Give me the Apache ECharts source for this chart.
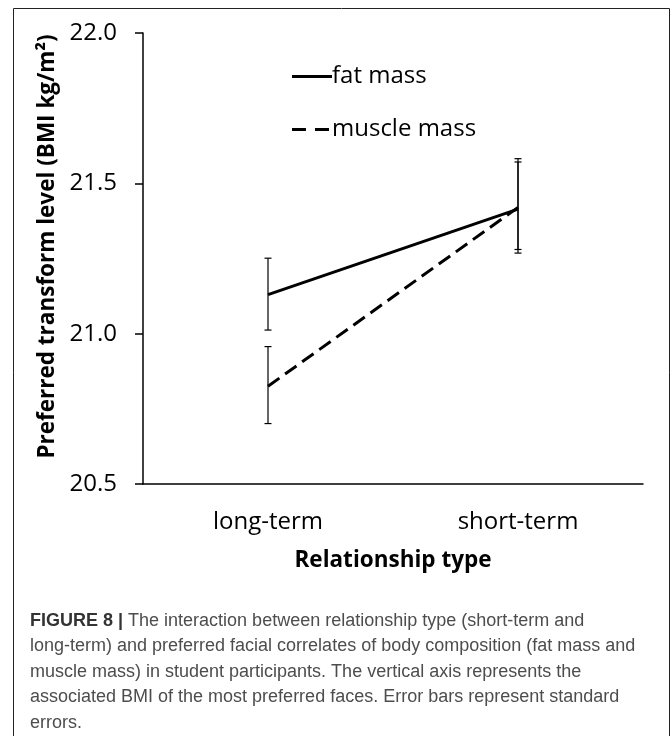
<!DOCTYPE html>
<html>
<head>
<meta charset="utf-8">
<script src="https://cdn.jsdelivr.net/npm/echarts@6/dist/echarts.min.js"></script>
<style>
html,body{margin:0;padding:0;background:#fff;}
#c{width:672px;height:736px;}
</style>
</head>
<body>
<div id="c"></div>
<script>
const categories = ['long-term', 'short-term'];
const fatMass = [21.13, 21.414];
const muscleMass = [20.825, 21.42];
const fatLow = [21.012, 21.268];
const fatHigh = [21.251, 21.571];
const muscleLow = [20.701, 21.28];
const muscleHigh = [20.957, 21.582];
const yTicks = [20.5, 21.0, 21.5, 22.0];
const seriesNames = ['fat mass', 'muscle mass'];
const captionLines = [
  'The interaction between relationship type (short-term and',
  'long-term) and preferred facial correlates of body composition (fat mass and',
  'muscle mass) in student participants. The vertical axis represents the',
  'associated BMI of the most preferred faces. Error bars represent standard',
  'errors.'
];

const errData = [];
categories.forEach((c, i) => {
  errData.push([i, fatLow[i], fatHigh[i]]);
  errData.push([i, muscleLow[i], muscleHigh[i]]);
});

const solidIcon = 'path://M0,0H40V3H0Z';
const dashIcon = 'path://M0,0H14V3H0Z M23,0H37V3H23Z M40,0H40.01V3H40Z';

const chart = echarts.init(document.getElementById('c'));
const txt = '#000';
chart.setOption({
  animation: false,
  backgroundColor: '#fff',
  grid: { left: 143, right: 29, top: 33, bottom: 252, containLabel: false },
  legend: {
    orient: 'vertical',
    left: 287,
    top: 55,
    itemWidth: 40,
    itemHeight: 3,
    itemGap: 20,
    data: [
      { name: seriesNames[0], icon: solidIcon },
      { name: seriesNames[1], icon: dashIcon }
    ],
    itemStyle: { color: '#000', borderWidth: 0 },
    textStyle: { fontFamily: 'Open Sans', fontSize: 24, color: txt, padding: [0, 0, 0, -5], lineHeight: 33 }
  },
  xAxis: {
    type: 'category',
    data: categories,
    boundaryGap: true,
    axisTick: { show: false },
    axisLine: { lineStyle: { color: '#000', width: 1.5 } },
    axisLabel: { fontFamily: 'Open Sans', fontSize: 24, color: txt, margin: 26 },
    name: 'Relationship type',
    nameLocation: 'middle',
    nameGap: 65,
    nameTextStyle: { fontFamily: 'Open Sans', fontWeight: 'bold', fontSize: 22.5, color: txt }
  },
  yAxis: {
    type: 'value',
    min: 20.5,
    max: 22.0,
    interval: 0.5,
    splitLine: { show: false },
    axisLine: { show: true, lineStyle: { color: '#000', width: 1.5 } },
    axisTick: { show: true, length: 8, lineStyle: { color: '#000', width: 1.5 } },
    axisLabel: {
      fontFamily: 'Open Sans', fontSize: 24, color: txt, margin: 26,
      formatter: v => yTicks.includes(+v.toFixed(1)) ? v.toFixed(1) : ''
    },
    name: 'Preferred transform level (BMI kg/m²)',
    nameLocation: 'middle',
    nameRotate: 90,
    nameGap: 77,
    nameTextStyle: { fontFamily: 'Open Sans', fontWeight: 'bold', fontSize: 22.5, color: txt, padding: [0, 0, 0, 24] }
  },
  series: [
    {
      name: seriesNames[0], type: 'line', data: fatMass, symbol: 'none',
      lineStyle: { color: '#000', width: 3 }, itemStyle: { color: '#000' }
    },
    {
      name: seriesNames[1], type: 'line', data: muscleMass, symbol: 'none',
      lineStyle: { color: '#000', width: 3, type: [14, 7] }, itemStyle: { color: '#000' }
    },
    {
      type: 'custom',
      data: errData,
      z: 5,
      renderItem: function (params, api) {
        const p1 = api.coord([api.value(0), api.value(1)]);
        const p2 = api.coord([api.value(0), api.value(2)]);
        const w = 3.5;
        const st = { stroke: '#000', lineWidth: 1.2 };
        return {
          type: 'group',
          children: [
            { type: 'line', shape: { x1: p1[0], y1: p1[1], x2: p2[0], y2: p2[1] }, style: st },
            { type: 'line', shape: { x1: p1[0] - w, y1: p1[1], x2: p1[0] + w, y2: p1[1] }, style: st },
            { type: 'line', shape: { x1: p2[0] - w, y1: p2[1], x2: p2[0] + w, y2: p2[1] }, style: st }
          ]
        };
      }
    }
  ],
  graphic: [
    {
      type: 'rect', silent: true,
      shape: { x: 13.5, y: 8.5, width: 656, height: 760 },
      style: { fill: 'none', stroke: '#222', lineWidth: 1 }
    },
    {
      type: 'text', left: 30, top: 608,
      style: {
        text: '{b|FIGURE 8 |} ' + captionLines.join('\n'),
        fontFamily: 'Liberation Sans',
        fontSize: 18,
        lineHeight: 25.5,
        fill: '#4d4d4d',
        rich: {
          b: { fontFamily: 'Liberation Sans', fontWeight: 'bold', fontSize: 18, lineHeight: 25.5, fill: '#333' }
        }
      }
    }
  ]
});
</script>
</body>
</html>
